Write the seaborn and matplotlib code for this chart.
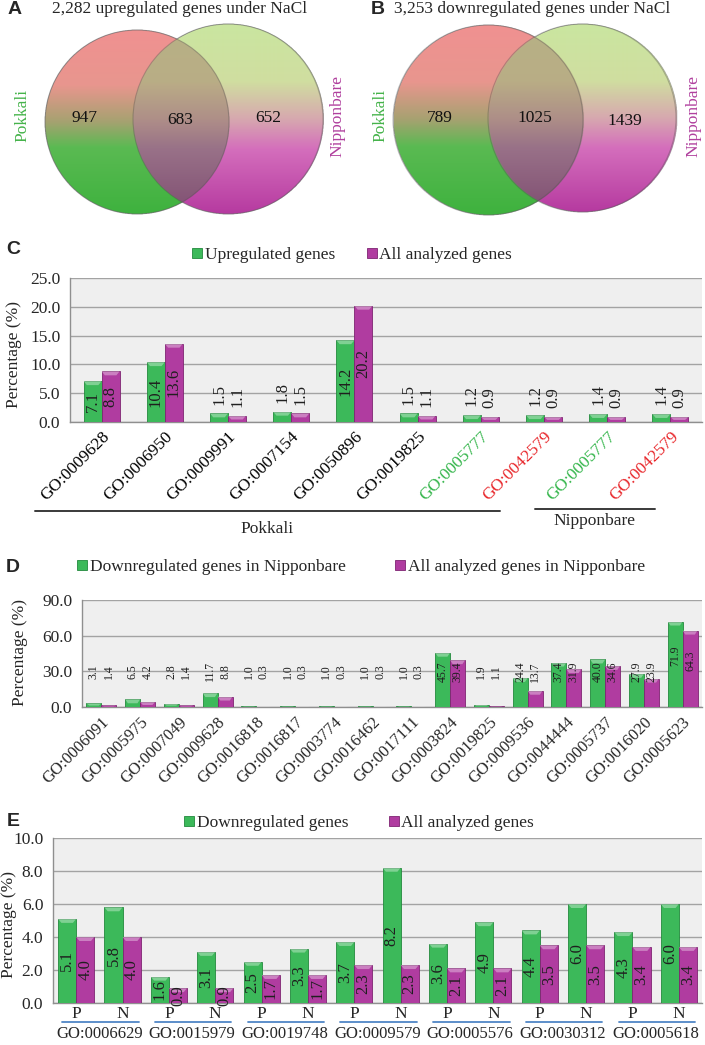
import numpy as np
import pandas as pd
import matplotlib
matplotlib.use("Agg")
import matplotlib.pyplot as plt
import seaborn as sns
from matplotlib.lines import Line2D
from matplotlib.patches import Circle, Polygon
from matplotlib.colors import LinearSegmentedColormap
import matplotlib.transforms as mtransforms

# ---------------- data ----------------
venn_sets = ["Pokkali", "Nipponbare"]
venn_a_title = "2,282 upregulated genes under NaCl"
venn_a_counts = [947, 683, 652]
venn_b_title = "3,253 downregulated genes under NaCl"
venn_b_counts = [789, 1025, 1439]

c_terms = ["GO:0009628", "GO:0006950", "GO:0009991", "GO:0007154", "GO:0050896",
           "GO:0019825", "GO:0005777", "GO:0042579", "GO:0005777", "GO:0042579"]
c_groups = ["Pokkali"] * 8 + ["Nipponbare"] * 2
c_up = [7.1, 10.4, 1.5, 1.8, 14.2, 1.5, 1.2, 1.2, 1.4, 1.4]
c_all = [8.8, 13.6, 1.1, 1.5, 20.2, 1.1, 0.9, 0.9, 0.9, 0.9]
c_series = ["Upregulated genes", "All analyzed genes"]

d_terms = ["GO:0006091", "GO:0005975", "GO:0007049", "GO:0009628", "GO:0016818",
           "GO:0016817", "GO:0003774", "GO:0016462", "GO:0017111", "GO:0003824",
           "GO:0019825", "GO:0009536", "GO:0044444", "GO:0005737", "GO:0016020",
           "GO:0005623"]
d_down = [3.1, 6.5, 2.8, 11.7, 1.0, 1.0, 1.0, 1.0, 1.0, 45.7, 1.9, 24.4, 37.4, 40.0, 27.9, 71.9]
d_all = [1.4, 4.2, 1.4, 8.8, 0.3, 0.3, 0.3, 0.3, 0.3, 39.4, 1.1, 13.7, 31.9, 34.6, 23.9, 64.3]
d_series = ["Downregulated genes in Nipponbare", "All analyzed genes in Nipponbare"]

e_terms = ["GO:0006629", "GO:0015979", "GO:0019748", "GO:0009579", "GO:0005576",
           "GO:0030312", "GO:0005618"]
e_cultivars = ["P", "N"]
e_down_P = [5.1, 1.6, 2.5, 3.7, 3.6, 4.4, 4.3]
e_down_N = [5.8, 3.1, 3.3, 8.2, 4.9, 6.0, 6.0]
e_all_P = [4.0, 0.9, 1.7, 2.3, 2.1, 3.5, 3.4]
e_all_N = [4.0, 0.9, 1.7, 2.3, 2.1, 3.5, 3.4]
e_series = ["Downregulated genes", "All analyzed genes"]

# ---------------- style ----------------
GREEN = "#3cb95a"
MAGENTA = "#b03ca0"
GREEN_E = "#23893d"
MAGENTA_E = "#7e2472"
TERM_GREEN = "#33b54a"
TERM_RED = "#e8262a"
SERIF = ["Liberation Serif", "DejaVu Serif"]
SANS = ["Liberation Sans", "DejaVu Sans"]

sns.set_style("white")
plt.rcParams["font.family"] = SERIF
plt.rcParams["font.size"] = 12

W, H = 705, 1045
fig = plt.figure(figsize=(W / 100, H / 100), dpi=100)


def px_axes(x0, y0, x1, y1):
    return fig.add_axes([x0 / W, 1 - y1 / H, (x1 - x0) / W, (y1 - y0) / H])


def fig_text(x, y, s, **kw):
    return fig.text(x / W, 1 - y / H, s, **kw)


# ---------------- Venn diagrams ----------------
cmap_left = LinearSegmentedColormap.from_list(
    "l", [(0, (240/255, 145/255, 145/255)), (0.3, (232/255, 150/255, 142/255)),
          (0.5, (165/255, 162/255, 112/255)), (0.64, (90/255, 186/255, 82/255)),
          (1, (62/255, 178/255, 62/255))])
cmap_right = LinearSegmentedColormap.from_list(
    "r", [(0, (202/255, 230/255, 160/255)), (0.3, (208/255, 222/255, 160/255)),
          (0.5, (215/255, 168/255, 175/255)), (0.66, (212/255, 110/255, 188/255)),
          (1, (182/255, 58/255, 160/255))])


def venn(x0, geom, title, counts, letter, letter_x, count_pos, set_x):
    ax = px_axes(x0, 0, x0 + 352.5, 230)
    ax.set_xlim(0, 352.5)
    ax.set_ylim(230, 0)
    ax.axis("off")
    (lcx, lcy, lr), (rcx, rcy, rr) = geom
    res = 3
    xs = (np.arange(int(352.5 * res)) + 0.5) / res
    ys = (np.arange(230 * res) + 0.5) / res
    X, Y = np.meshgrid(xs, ys)
    inL = (X - lcx) ** 2 + (Y - lcy) ** 2 <= lr ** 2
    inR = (X - rcx) ** 2 + (Y - rcy) ** 2 <= rr ** 2
    colL = cmap_left(np.clip((Y - (lcy - lr)) / (2 * lr), 0, 1))[..., :3]
    colR = cmap_right(np.clip((Y - (rcy - rr)) / (2 * rr), 0, 1))[..., :3]
    img = np.zeros(X.shape + (4,))
    img[inL, :3] = colL[inL]
    img[inR & ~inL, :3] = colR[inR & ~inL]
    both = inL & inR
    img[both, :3] = ((0.72 * colR + 0.28 * colL) * 0.86)[both]
    img[inL | inR, 3] = 1
    ax.imshow(img, extent=(0, 352.5, 230, 0), origin="upper", aspect="auto",
              interpolation="bilinear", zorder=1)
    for cx, cy, r in geom:
        ax.add_patch(Circle((cx, cy), r, fill=False, ec=(0.3, 0.3, 0.3, 0.35), lw=0.8, zorder=2))
    ax.text(180, 9, title, ha="center", va="center", fontsize=12.5)
    ax.text(letter_x, 10, letter, ha="center", va="center", fontsize=14,
            fontweight="bold", family=SANS)
    for (px, py), c in zip(count_pos, counts):
        ax.text(px, py, f"{c}", ha="center", va="center", fontsize=12.5, color="#111111", zorder=3)
    ax.text(set_x[0], 115, venn_sets[0], rotation=90, ha="center", va="center",
            fontsize=12.5, color="#45b34a")
    ax.text(set_x[1], 116, venn_sets[1], rotation=90, ha="center", va="center",
            fontsize=12.5, color="#b0409e")


venn(0, [(137, 122, 92), (228, 119, 95)], venn_a_title, venn_a_counts, "A", 15,
     [(85, 118), (180, 120), (268, 118)], (22, 337))
venn(352.5, [(135.5, 120, 95), (229.5, 118, 94)], venn_b_title, venn_b_counts, "B", 25.5,
     [(87.5, 118), (182.5, 118), (272.5, 121)], (27.5, 340.5))


# ---------------- bar chart helper ----------------
def bar_panel(ax, keys, s1, s2, names, width, ymax, ystep, ax_h_px):
    n = len(keys)
    df = pd.DataFrame({
        "key": list(keys) * 2,
        "value": list(s1) + list(s2),
        "series": [names[0]] * n + [names[1]] * n,
    })
    sns.barplot(data=df, x="key", y="value", hue="series", order=list(keys),
                hue_order=names, palette=[GREEN, MAGENTA], saturation=1,
                width=width, errorbar=None, legend=False, ax=ax, zorder=3)
    ax.set_xlim(-0.5, n - 0.5)
    ax.set_ylim(0, ymax)
    # bevel highlight on each bar's top (derived from the bar patches)
    cap = 4.0 * ymax / ax_h_px
    for cont, ec in zip(ax.containers, [GREEN_E, MAGENTA_E]):
        for p in cont:
            p.set_edgecolor(ec)
            p.set_linewidth(0.6)
            x0, w, h = p.get_x(), p.get_width(), p.get_height()
            d = min(cap, h * 0.6)
            ax.add_patch(Polygon([(x0, h), (x0 + w, h), (x0 + w * 0.82, h - d), (x0 + w * 0.18, h - d)],
                                 closed=True, fc=(1, 1, 1, 0.35), ec="none", zorder=3.5))
    yt = np.arange(0, ymax + 1e-9, ystep)
    ax.set_yticks(yt)
    ax.set_yticklabels([f"{t:.1f}" for t in yt], fontsize=12.5)
    ax.set_facecolor("#efefef")
    ax.grid(axis="y", color="#a3a3a3", lw=1.0)
    ax.grid(axis="x", visible=False)
    ax.set_axisbelow(True)
    for s in ["top", "right"]:
        ax.spines[s].set_visible(False)
    for s in ["left", "bottom"]:
        ax.spines[s].set_color("#8f8f8f")
        ax.spines[s].set_linewidth(1.0)
    ax.tick_params(axis="y", length=4, color="#8f8f8f", pad=3)
    ax.set_xticks(np.arange(-0.5, n, 1.0), minor=True)
    ax.tick_params(axis="x", which="minor", length=5, color="#8f8f8f")
    ax.tick_params(axis="x", which="major", length=0)
    ax.set_xlabel("")
    ax.set_ylabel("")
    return ax


def legend(ax, names, cx, cy, colspace):
    hs = [Line2D([], [], marker="s", ls="", markersize=7.5, markerfacecolor=GREEN,
                 markeredgecolor=GREEN_E, markeredgewidth=0.6),
          Line2D([], [], marker="s", ls="", markersize=7.5, markerfacecolor=MAGENTA,
                 markeredgecolor=MAGENTA_E, markeredgewidth=0.6)]
    ax.legend(hs, names, ncol=2, loc="center", bbox_to_anchor=(cx / W, 1 - cy / H),
              bbox_transform=fig.transFigure, frameon=False, fontsize=12.5,
              handlelength=0.6, handletextpad=0.15, columnspacing=colspace,
              borderaxespad=0)


# ---------------- panel C ----------------
axC = px_axes(70, 278, 702, 422)
c_keys = [f"{t} ({g})" for t, g in zip(c_terms, c_groups)]
bar_panel(axC, c_keys, c_up, c_all, c_series, 0.57, 25, 5, 144)
axC.set_xticks(range(len(c_terms)))
axC.set_xticklabels(c_terms, rotation=45, ha="right", va="top", rotation_mode="anchor",
                    fontsize=12.5)
axC.tick_params(axis="x", which="major", pad=5)
term_colors = {"GO:0005777": TERM_GREEN, "GO:0042579": TERM_RED}
for lab, t in zip(axC.get_xticklabels(), c_terms):
    lab.set_color(term_colors.get(t, "black"))
for cont in axC.containers:
    for p in cont:
        v = p.get_height()
        x = p.get_x() + p.get_width() / 2
        if v >= 5:
            axC.text(x, v / 2, f"{v:.1f}", rotation=90, ha="center", va="center",
                     fontsize=12, color="#1f1f1f", zorder=4)
        else:
            axC.text(x, v + 1.5, f"{v:.1f}", rotation=90, ha="center", va="bottom",
                     fontsize=12, color="#1f1f1f", zorder=4)
legend(axC, c_series, 352, 255, 1.8)
fig_text(13, 250, "C", ha="center", va="center", fontsize=14, fontweight="bold", family=SANS)
fig_text(14, 355, "Percentage (%)", rotation=90, ha="center", va="center", fontsize=12.5)

blend = mtransforms.blended_transform_factory(axC.transData, axC.transAxes)
for grp, (off0, off1), ly, ty in [("Pokkali", (-1.05, -0.7), -0.618, -0.74),
                                    ("Nipponbare", (-1.15, -0.25), -0.604, -0.69)]:
    idx = [i for i, g in enumerate(c_groups) if g == grp]
    x0, x1 = idx[0] + off0, idx[-1] + off1
    axC.plot([x0, x1], [ly, ly], color="#3a3a3a", lw=1.4, transform=blend, clip_on=False)
    axC.text((x0 + x1) / 2, ty, grp, transform=blend, ha="center", va="center", fontsize=12.5)

# ---------------- panel D ----------------
axD = px_axes(82, 600, 702, 707)
bar_panel(axD, d_terms, d_down, d_all, d_series, 0.77, 90, 30, 107)
axD.set_xticks(range(len(d_terms)))
axD.set_xticklabels(d_terms, rotation=45, ha="right", va="top", rotation_mode="anchor",
                    fontsize=12)
axD.tick_params(axis="x", which="major", pad=5)
for cont in axD.containers:
    for p in cont:
        v = p.get_height()
        x = p.get_x() + p.get_width() / 2
        axD.text(x, max(30, 0.6 * v), f"{v:.1f}", rotation=90, ha="center", va="center",
                 fontsize=8.5, color="#1f1f1f", zorder=4)
legend(axD, d_series, 361, 567, 2.8)
fig_text(13, 567, "D", ha="center", va="center", fontsize=14, fontweight="bold", family=SANS)
fig_text(20, 652, "Percentage (%)", rotation=90, ha="center", va="center", fontsize=12.5)

# ---------------- panel E ----------------
axE = px_axes(53, 838, 702, 1003)
e_keys, e_down, e_all, e_ticklabels = [], [], [], []
for t, dp, dn, ap, an in zip(e_terms, e_down_P, e_down_N, e_all_P, e_all_N):
    for cv, dv, av in zip(e_cultivars, (dp, dn), (ap, an)):
        e_keys.append(f"{t} {cv}")
        e_down.append(dv)
        e_all.append(av)
        e_ticklabels.append(cv)
bar_panel(axE, e_keys, e_down, e_all, e_series, 0.78, 10, 2, 165)
axE.set_xticks(range(len(e_keys)))
axE.set_xticklabels(e_ticklabels, fontsize=12.5)
axE.tick_params(axis="x", which="major", pad=2)
for cont in axE.containers:
    for p in cont:
        v = p.get_height()
        x = p.get_x() + p.get_width() / 2
        axE.text(x, v / 2, f"{v:.1f}", rotation=90, ha="center", va="center",
                 fontsize=12, color="#1f1f1f", zorder=4)
blendE = mtransforms.blended_transform_factory(axE.transData, axE.transAxes)
for k, t in enumerate(e_terms):
    axE.plot([2 * k - 0.3, 2 * k + 1.35], [-0.115, -0.115], color="#4f86c6", lw=1.3,
             transform=blendE, clip_on=False)
    axE.text(2 * k + 0.5, -0.19, t, transform=blendE, ha="center", va="center", fontsize=12)
legend(axE, e_series, 359, 823, 2.3)
fig_text(13, 821, "E", ha="center", va="center", fontsize=14, fontweight="bold", family=SANS)
fig_text(9, 925, "Percentage (%)", rotation=90, ha="center", va="center", fontsize=12.5)

fig.savefig("out.png", dpi=100)
